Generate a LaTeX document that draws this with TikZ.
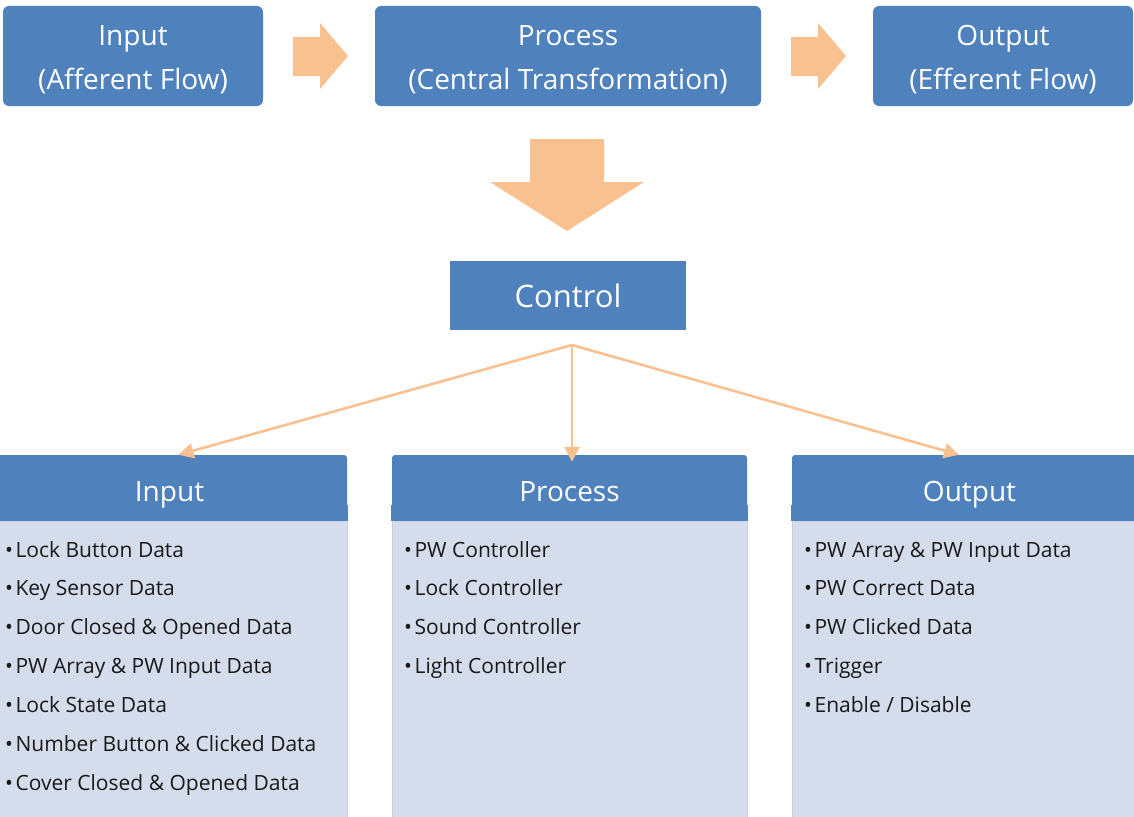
\documentclass[tikz,border=0pt]{standalone}
\usepackage{fontspec}
\setmainfont{Open Sans}
\usetikzlibrary{arrows.meta}
\definecolor{boxblue}{HTML}{4F81BD}
\definecolor{arrorange}{HTML}{F9C090}
\definecolor{bodyblue}{HTML}{D5DCEB}
\definecolor{bodyline}{HTML}{C6CEE3}
\tikzset{
  topbox/.style={fill=boxblue, draw=none, rounded corners=6pt, minimum height=100pt, inner sep=0pt},
  toptext/.style={text=white, align=center, inner sep=0pt, anchor=base, font=\fontsize{28}{44}\selectfont},
  ctrlbox/.style={fill=boxblue, draw=none, text=white, minimum width=236pt, minimum height=69pt,
    inner sep=0pt, font=\fontsize{31}{36}\selectfont},
  headbox/.style={fill=boxblue, draw=none, rounded corners=3pt, minimum height=66pt, inner sep=0pt},
  headtext/.style={text=white, inner sep=0pt, anchor=base, font=\fontsize{28}{34}\selectfont},
  bodybox/.style={fill=bodyblue, draw=bodyline, line width=1.2pt, inner sep=0pt, anchor=north west},
  item/.style={anchor=base west, inner sep=0pt, font=\fontsize{21}{24}\selectfont, text=black!90},
  blockarrow/.style={fill=arrorange, draw=none},
  conn/.style={draw=arrorange, line width=2.6pt, -{Triangle[length=15pt,width=15pt]}}
}
\begin{document}
\begin{tikzpicture}[x=1pt,y=-1pt]
\useasboundingbox (0,0) rectangle (1134,816);
% top row
\node[topbox, minimum width=260pt] (tin) at (133,56) {};
\node[topbox, minimum width=386pt] (tproc) at (568,56) {};
\node[topbox, minimum width=260pt] (tout) at (1003,56) {};
\node[toptext] (tint) at (133,89) {Input\\(Afferent Flow)};
\node[toptext] (tprot) at (568,89) {Process\\(Central Transformation)};
\node[toptext] (toutt) at (1003,89) {Output\\(Efferent Flow)};
% block arrows
\fill[blockarrow] (293,37) -- (320,37) -- (320,23) -- (348,56) -- (320,89) -- (320,76) -- (293,76) -- cycle;
\fill[blockarrow] (791,37) -- (818,37) -- (818,23) -- (846,56) -- (818,89) -- (818,76) -- (791,76) -- cycle;
\fill[blockarrow] (530,139) -- (604,139) -- (604,182) -- (644,182) -- (567,231) -- (490,182) -- (530,182) -- cycle;
% control
\node[ctrlbox] (ctrl) at (568,295.5) {Control};
\coordinate (src) at (572,345);
% bodies
\node[bodybox, minimum width=355pt, minimum height=300pt] (ibody) at (-8,518) {};
\node[bodybox, minimum width=355pt, minimum height=300pt] (pbody) at (392,518) {};
\node[bodybox, minimum width=355pt, minimum height=300pt] (obody) at (792,518) {};
% headers
\node[headbox, minimum width=355pt] (ihead) at (169.5,488) {};
\node[headbox, minimum width=355pt] (phead) at (569.5,488) {};
\node[headbox, minimum width=355pt] (ohead) at (969.5,488) {};
\fill[boxblue] (0,505) rectangle (1134,520.5);
\fill[white] (347.6,500) rectangle (391.4,521);
\fill[white] (747.6,500) rectangle (791.4,521);
\node[headtext] (iht) at (169.5,501) {Input};
\node[headtext] (pht) at (569.5,501) {Process};
\node[headtext] (oht) at (969.5,501) {Output};
% items
\foreach \t [count=\i] in {Lock Button Data, Key Sensor Data, Door Closed \& Opened Data,
  PW Array \& PW Input Data, Lock State Data, Number Button \& Clicked Data, Cover Closed \& Opened Data}
  \node[item] (in\i) at ({5},{557+(\i-1)*38.9}) {•\hspace{2.5pt}\t};
\foreach \t [count=\i] in {PW Controller, Lock Controller, Sound Controller, Light Controller}
  \node[item] (pr\i) at ({404},{557+(\i-1)*38.9}) {•\hspace{2.5pt}\t};
\foreach \t [count=\i] in {PW Array \& PW Input Data, PW Correct Data, PW Clicked Data, Trigger, Enable / Disable}
  \node[item] (ou\i) at ({804},{557+(\i-1)*38.9}) {•\hspace{2.5pt}\t};
% connectors
\draw[conn] (src) -- ([xshift=9pt]ihead.north);
\draw[conn] (src) -- ([xshift=2.5pt,yshift=-7pt]phead.north);
\draw[conn] (src) -- ([xshift=-10.5pt]ohead.north);
\end{tikzpicture}
\end{document}
